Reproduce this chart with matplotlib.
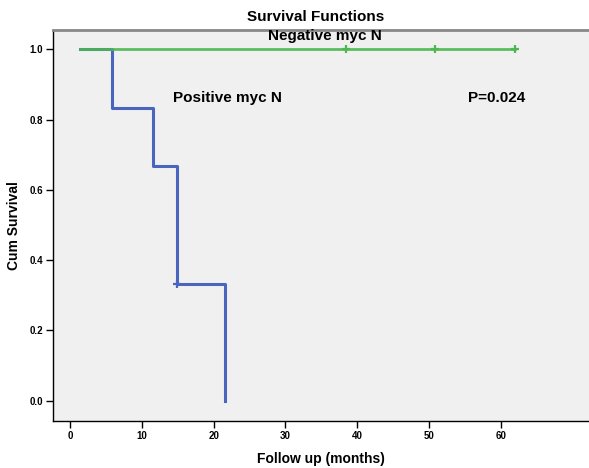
import matplotlib
matplotlib.use("Agg")
import matplotlib.pyplot as plt

plt.rcParams['font.family'] = ['Liberation Sans', 'DejaVu Sans']

# Data (months, cumulative survival)
pos_times = [0, 4, 9, 12, 18]
pos_surv = [1.0, 0.833, 0.667, 0.333, 0.0]
pos_censor_t = [12]
pos_censor_s = [0.333]

neg_times = [0, 54]
neg_surv = [1.0, 1.0]
neg_censor_t = [33, 44, 54]
neg_censor_s = [1.0, 1.0, 1.0]

xticks = [0, 10, 20, 30, 40, 50, 60]
yticks = [0.0, 0.2, 0.4, 0.6, 0.8, 1.0]

W, H = 589, 468
fig = plt.figure(figsize=(W/100, H/100), dpi=100)
left, right, top, bottom = 52.5, 589, 30, 421
ax = fig.add_axes([left/W, 1-bottom/H, (right-left)/W, (bottom-top)/H])
ax.set_facecolor('#f0f0f0')

# tick axis scale
px0, ppu = 70.0, 7.183
ax.set_xlim((left-px0)/ppu, (right-px0)/ppu)
y1px, yppu = 49.3, 351.4
ax.set_ylim(1-(bottom-y1px)/yppu, 1+(y1px-top)/yppu)
ax.set_xticks(xticks)
ax.set_yticks(yticks)
ax.set_xticklabels([str(t) for t in xticks], fontweight='bold', fontsize=7)
ax.set_yticklabels([f"{t:.1f}" for t in yticks], fontweight='bold', fontsize=7)
ax.tick_params(direction='out', length=5, width=1, pad=2)
ax.spines['top'].set_color('#888888')
ax.spines['top'].set_linewidth(2)
ax.spines['right'].set_visible(False)
ax.spines['left'].set_linewidth(1)
ax.spines['bottom'].set_linewidth(1)
ax.set_xlabel('Follow up (months)', fontweight='bold', fontsize=10, labelpad=8)
ax.set_ylabel('Cum Survival', fontweight='bold', fontsize=10, labelpad=6)

# curve axis (as drawn in the reference)
ax2 = ax.twiny()
ax2.set_zorder(ax.get_zorder()+1)
ax2.patch.set_visible(False)
cpx0, cppu = 80.0, 8.06
ax2.set_xlim((left-cpx0)/cppu, (right-cpx0)/cppu)
ax2.set_ylim(ax.get_ylim())
ax2.axis('off')

blue = '#4a65be'
green = '#4cb84f'
ax2.step(pos_times, pos_surv, where='post', color=blue, lw=2.2)
ax2.plot(pos_censor_t, pos_censor_s, '+', color=blue, ms=6, mew=1.6)
ax2.step(neg_times, neg_surv, where='post', color=green, lw=2.0, alpha=0.9)
ax2.plot(neg_censor_t, neg_censor_s, '+', color=green, ms=6, mew=1.6)

ax.text((325-px0)/ppu, 1+(y1px-36)/yppu, 'Negative myc N', ha='center', va='center',
        fontsize=11, fontweight='bold')
ax.text((173-px0)/ppu, 1-(98-y1px)/yppu, 'Positive myc N', ha='left', va='center',
        fontsize=11, fontweight='bold')
ax.text((468-px0)/ppu, 1-(98-y1px)/yppu, 'P=0.024', ha='left', va='center',
        fontsize=11, fontweight='bold')
fig.text(316/W, 1-17/H, 'Survival Functions', ha='center', va='center',
         fontsize=11, fontweight='bold')

fig.savefig('out.png', dpi=100)
